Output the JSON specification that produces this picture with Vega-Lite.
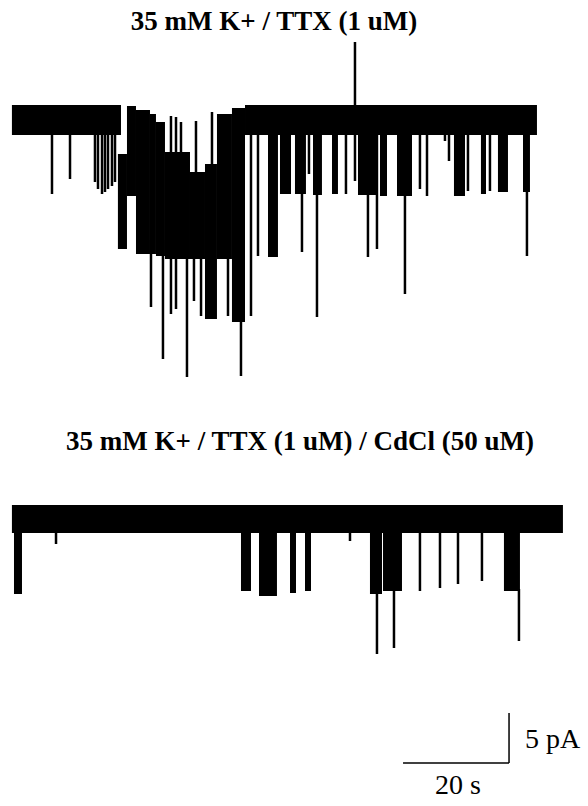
{
  "$schema": "https://vega.github.io/schema/vega-lite/v6.json",
  "padding": {"top": 8, "left": 0, "right": 0, "bottom": 0},
  "spacing": 38,
  "background": "white",
  "config": {
    "view": {"stroke": null},
    "title": {"font": "Liberation Serif", "fontSize": 27, "fontWeight": "bold", "color": "#000", "offset": 0, "anchor": "middle"}
  },
  "datasets": {
    "blocks": [
      {"trace": 1, "start": 0, "end": 20.58, "top": 1.5, "bottom": -1.5},
      {"trace": 1, "start": 20.0, "end": 21.71, "top": -3.4, "bottom": -12.9},
      {"trace": 1, "start": 21.71, "end": 23.41, "top": 1.4, "bottom": -7.6},
      {"trace": 1, "start": 23.41, "end": 26.05, "top": 1.0, "bottom": -13.4},
      {"trace": 1, "start": 26.05, "end": 27.18, "top": 0.6, "bottom": -13.4},
      {"trace": 1, "start": 27.18, "end": 28.88, "top": -0.2, "bottom": -13.6},
      {"trace": 1, "start": 28.88, "end": 33.6, "top": -3.2, "bottom": -13.9},
      {"trace": 1, "start": 33.6, "end": 36.43, "top": -5.2, "bottom": -13.9},
      {"trace": 1, "start": 36.43, "end": 38.69, "top": -4.4, "bottom": -19.9},
      {"trace": 1, "start": 38.69, "end": 41.52, "top": 0.6, "bottom": -13.9},
      {"trace": 1, "start": 41.52, "end": 43.98, "top": 1.2, "bottom": -20.2},
      {"trace": 1, "start": 43.98, "end": 99.07, "top": 1.5, "bottom": -1.5},
      {"trace": 1, "start": 48.32, "end": 50.2, "top": 1.5, "bottom": -13.7},
      {"trace": 1, "start": 50.58, "end": 52.66, "top": 1.5, "bottom": -7.4},
      {"trace": 1, "start": 53.41, "end": 55.48, "top": 1.5, "bottom": -7.4},
      {"trace": 1, "start": 56.81, "end": 58.5, "top": 1.5, "bottom": -7.5},
      {"trace": 1, "start": 60.39, "end": 61.52, "top": 1.5, "bottom": -7.4},
      {"trace": 1, "start": 65.3, "end": 68.88, "top": 1.5, "bottom": -7.5},
      {"trace": 1, "start": 69.45, "end": 70.77, "top": 1.5, "bottom": -7.6},
      {"trace": 1, "start": 72.66, "end": 75.49, "top": 1.5, "bottom": -7.6},
      {"trace": 1, "start": 83.41, "end": 85.49, "top": 1.5, "bottom": -7.6},
      {"trace": 1, "start": 88.5, "end": 89.45, "top": 1.5, "bottom": -7.4},
      {"trace": 1, "start": 91.71, "end": 93.6, "top": 1.5, "bottom": -7.2},
      {"trace": 1, "start": 96.43, "end": 97.75, "top": 1.5, "bottom": -7.2},
      {"trace": 2, "start": 0, "end": 103.97, "top": 1.4, "bottom": -1.4},
      {"trace": 2, "start": 0.39, "end": 1.9, "top": 1.4, "bottom": -7.5},
      {"trace": 2, "start": 43.22, "end": 45.11, "top": 1.4, "bottom": -7.2},
      {"trace": 2, "start": 46.62, "end": 50.01, "top": 1.4, "bottom": -7.7},
      {"trace": 2, "start": 52.47, "end": 53.6, "top": 1.4, "bottom": -7.4},
      {"trace": 2, "start": 55.3, "end": 56.43, "top": 1.4, "bottom": -7.2},
      {"trace": 2, "start": 67.56, "end": 69.83, "top": 1.4, "bottom": -7.5},
      {"trace": 2, "start": 70.02, "end": 73.6, "top": 1.4, "bottom": -7.2},
      {"trace": 2, "start": 92.84, "end": 95.86, "top": 1.4, "bottom": -7.2}
    ],
    "spikes": [
      {"trace": 1, "time": 7.56, "top": -1.5, "bottom": -7.4},
      {"trace": 1, "time": 10.96, "top": -1.5, "bottom": -5.9},
      {"trace": 1, "time": 15.67, "top": -1.5, "bottom": -6.2},
      {"trace": 1, "time": 16.24, "top": -1.5, "bottom": -6.9},
      {"trace": 1, "time": 17.0, "top": -1.5, "bottom": -7.4},
      {"trace": 1, "time": 17.56, "top": -1.5, "bottom": -7.2},
      {"trace": 1, "time": 18.13, "top": -1.5, "bottom": -6.9},
      {"trace": 1, "time": 18.88, "top": -1.5, "bottom": -6.6},
      {"trace": 1, "time": 19.45, "top": -1.5, "bottom": -6.2},
      {"trace": 1, "time": 26.24, "top": -12, "bottom": -18.7},
      {"trace": 1, "time": 28.5, "top": -12, "bottom": -23.9},
      {"trace": 1, "time": 30.01, "top": -12, "bottom": -19.4},
      {"trace": 1, "time": 30.96, "top": -12, "bottom": -18.9},
      {"trace": 1, "time": 33.03, "top": -12, "bottom": -25.7},
      {"trace": 1, "time": 34.35, "top": -12, "bottom": -18.1},
      {"trace": 1, "time": 35.68, "top": -12, "bottom": -19.6},
      {"trace": 1, "time": 40.77, "top": -12, "bottom": -19.6},
      {"trace": 1, "time": 43.22, "top": -12, "bottom": -25.6},
      {"trace": 1, "time": 30.01, "top": 0.4, "bottom": -3.2},
      {"trace": 1, "time": 30.96, "top": 0.3, "bottom": -3.2},
      {"trace": 1, "time": 31.9, "top": -0.2, "bottom": -3.2},
      {"trace": 1, "time": 34.73, "top": -0.1, "bottom": -5.2},
      {"trace": 1, "time": 37.75, "top": 0.8, "bottom": -4.4},
      {"trace": 1, "time": 45.11, "top": -1.5, "bottom": -19.6},
      {"trace": 1, "time": 46.43, "top": -1.5, "bottom": -13.6},
      {"trace": 1, "time": 54.73, "top": -1.5, "bottom": -13.2},
      {"trace": 1, "time": 56.05, "top": -1.5, "bottom": -5.4},
      {"trace": 1, "time": 57.56, "top": -1.5, "bottom": -19.7},
      {"trace": 1, "time": 63.03, "top": -1.5, "bottom": -7.4},
      {"trace": 1, "time": 64.73, "top": -1.5, "bottom": -6.1},
      {"trace": 1, "time": 67.18, "top": -1.5, "bottom": -13.7},
      {"trace": 1, "time": 68.88, "top": -1.5, "bottom": -12.9},
      {"trace": 1, "time": 74.16, "top": -1.5, "bottom": -17.4},
      {"trace": 1, "time": 76.99, "top": -1.5, "bottom": -6.9},
      {"trace": 1, "time": 78.32, "top": -1.5, "bottom": -7.6},
      {"trace": 1, "time": 81.71, "top": -1.5, "bottom": -2.1},
      {"trace": 1, "time": 82.47, "top": -1.5, "bottom": -4.1},
      {"trace": 1, "time": 86.05, "top": -1.5, "bottom": -7.1},
      {"trace": 1, "time": 90.2, "top": -1.5, "bottom": -7.1},
      {"trace": 1, "time": 97.18, "top": -1.5, "bottom": -13.6},
      {"trace": 1, "time": 64.73, "top": 7.8, "bottom": 1.5},
      {"trace": 2, "time": 8.32, "top": -1.4, "bottom": -2.5},
      {"trace": 2, "time": 63.79, "top": -1.4, "bottom": -2.2},
      {"trace": 2, "time": 68.88, "top": -7, "bottom": -13.5},
      {"trace": 2, "time": 72.09, "top": -7, "bottom": -12.9},
      {"trace": 2, "time": 76.99, "top": -1.4, "bottom": -7.2},
      {"trace": 2, "time": 80.77, "top": -1.4, "bottom": -6.9},
      {"trace": 2, "time": 84.17, "top": -1.4, "bottom": -6.5},
      {"trace": 2, "time": 88.69, "top": -1.4, "bottom": -6.2},
      {"trace": 2, "time": 95.67, "top": -7, "bottom": -12.2}
    ],
    "scalebar": [
      {"t_start": 73.8, "t_end": 93.8, "i_low": -24.4, "i_high": -19.4, "time_label": "20 s", "current_label": "5 pA"}
    ]
  },
  "vconcat": [
    {
      "title": {"text": "35 mM K+ / TTX (1 uM)", "dx": -20},
      "width": 588,
      "height": 350,
      "layer": [
        {
          "data": {"name": "blocks"},
          "transform": [{"filter": "datum.trace == 1"}],
          "mark": {"type": "rect", "color": "#000"},
          "encoding": {
            "x": {"field": "start", "type": "quantitative", "scale": {"domain": [-2.25, 108.7], "nice": false, "zero": false}, "axis": null},
            "x2": {"field": "end"},
            "y": {"field": "top", "type": "quantitative", "scale": {"domain": [-27.0, 8.0], "nice": false, "zero": false}, "axis": null},
            "y2": {"field": "bottom"}
          }
        },
        {
          "data": {"name": "spikes"},
          "transform": [{"filter": "datum.trace == 1"}],
          "mark": {"type": "rule", "color": "#000", "strokeWidth": 2.5},
          "encoding": {
            "x": {"field": "time", "type": "quantitative"},
            "y": {"field": "top", "type": "quantitative"},
            "y2": {"field": "bottom"}
          }
        }
      ]
    },
    {
      "title": {"text": "35 mM K+ / TTX (1 uM) / CdCl (50 uM)", "dx": 6},
      "width": 588,
      "height": 342,
      "layer": [
        {
          "data": {"name": "blocks"},
          "transform": [{"filter": "datum.trace == 2"}],
          "mark": {"type": "rect", "color": "#000"},
          "encoding": {
            "x": {"field": "start", "type": "quantitative", "scale": {"domain": [-2.25, 108.7], "nice": false, "zero": false}, "axis": null},
            "x2": {"field": "end"},
            "y": {"field": "top", "type": "quantitative", "scale": {"domain": [-28.3, 5.9], "nice": false, "zero": false}, "axis": null},
            "y2": {"field": "bottom"}
          }
        },
        {
          "data": {"name": "spikes"},
          "transform": [{"filter": "datum.trace == 2"}],
          "mark": {"type": "rule", "color": "#000", "strokeWidth": 2.5},
          "encoding": {
            "x": {"field": "time", "type": "quantitative"},
            "y": {"field": "top", "type": "quantitative"},
            "y2": {"field": "bottom"}
          }
        },
        {
          "data": {"name": "scalebar"},
          "mark": {"type": "rule", "color": "#000", "strokeWidth": 1.5},
          "encoding": {
            "x": {"field": "t_start", "type": "quantitative"},
            "x2": {"field": "t_end"},
            "y": {"field": "i_low", "type": "quantitative"}
          }
        },
        {
          "data": {"name": "scalebar"},
          "mark": {"type": "rule", "color": "#000", "strokeWidth": 1.5},
          "encoding": {
            "x": {"field": "t_end", "type": "quantitative"},
            "y": {"field": "i_low", "type": "quantitative"},
            "y2": {"field": "i_high"}
          }
        },
        {
          "data": {"name": "scalebar"},
          "mark": {"type": "text", "font": "Liberation Serif", "fontSize": 28, "align": "left", "baseline": "alphabetic", "dx": 16, "dy": 35, "color": "#000"},
          "encoding": {
            "x": {"field": "t_end", "type": "quantitative"},
            "y": {"field": "i_high", "type": "quantitative"},
            "text": {"field": "current_label"}
          }
        },
        {
          "data": {"name": "scalebar"},
          "mark": {"type": "text", "font": "Liberation Serif", "fontSize": 28, "align": "center", "baseline": "alphabetic", "dx": 55, "dy": 31, "color": "#000"},
          "encoding": {
            "x": {"field": "t_start", "type": "quantitative"},
            "y": {"field": "i_low", "type": "quantitative"},
            "text": {"field": "time_label"}
          }
        }
      ]
    }
  ]
}
